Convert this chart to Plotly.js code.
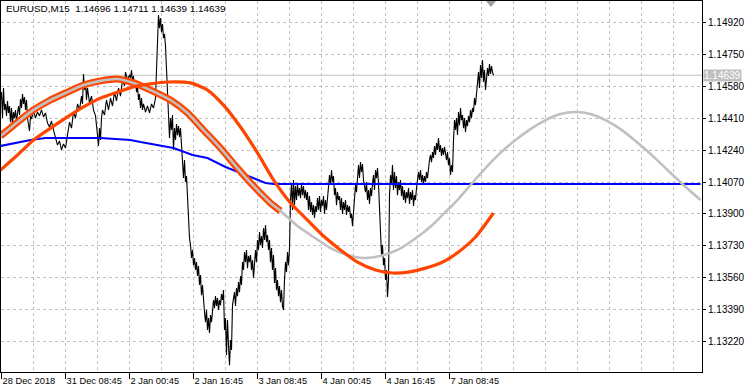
<!DOCTYPE html>
<html>
<head>
<meta charset="utf-8">
<script src="https://cdn.plot.ly/plotly-3.0.1.min.js"></script>
<style>html,body{margin:0;padding:0;background:#fff;}#chart{width:748px;height:392px;}</style>
</head>
<body>
<div id="chart"></div>
<script>
// ---- DATA (EURUSD M15, bar index = one M15 bar) ----
const titleText = "EURUSD,M15\u00a0\u00a01.14696 1.14711 1.14639 1.14639";
const lastPrice = 1.14639;

const xTickBars = [1, 65, 129, 193, 257, 321, 385, 449];
const xTickText = ["28 Dec 2018", "31 Dec 08:45", "2 Jan 00:45", "2 Jan 16:45", "3 Jan 08:45", "4 Jan 00:45", "4 Jan 16:45", "7 Jan 08:45"];
const xMinorGridBars = [33, 97, 161, 225, 289, 353, 417, 481, 513, 545, 577, 609, 641, 673];
const yTickVals = [1.13220, 1.13390, 1.13560, 1.13730, 1.13900, 1.14070, 1.14240, 1.14410, 1.14580, 1.14750, 1.14920];
const yTickText = ["1.13220", "1.13390", "1.13560", "1.13730", "1.13900", "1.14070", "1.14240", "1.14410", "1.14580", "1.14750", "1.14920"];

const priceBars = [0,1,2,3,4,5,6,7,8,9,10,11,12,13,14,15,16,17,18,19,20,21,22,23,24,25,26,27,28,29,30,31,
33,35,37,39,41,43,45,47,49,51,53,55,57,59,61,63,65,67,69,71,73,75,77,79,81,82,83,84,85,86,87,89,91,93,95,97,98,99,100,101,102,104,106,108,110,112,114,116,118,120,122,124,125,127,129,
130,131,132,133,134,135,136,137,138,139,140,141,142,143,145,147,149,151,153,155,
156,157,158,159,160,161,162,163,164,165,166,167,168,169,170,171,172,173,174,175,176,177,178,179,180,181,182,183,184,185,186,187,188,189,190,191,192,193,194,195,196,197,198,199,
200,201,202,203,204,205,206,207,208,209,210,211,212,213,214,215,216,217,218,219,220,221,222,223,224,225,226,227,228,229,230,231,232,233,234,235,236,237,238,239,240,241,242,243,244,245,246,247,248,249,
250,251,252,253,254,255,256,257,258,259,260,261,262,263,264,265,266,267,268,269,270,271,272,273,274,275,276,277,278,279,280,281,282,283,284,285,286,287,288,289,290,291,292,293,294,295,296,297,298,299,
300,301,302,303,304,305,306,307,308,309,310,311,312,313,314,315,316,317,318,319,320,321,322,323,324,325,326,327,328,329,330,331,332,333,334,335,336,337,338,339,340,341,342,343,344,345,346,347,348,349,
350,351,352,353,354,355,356,357,358,359,360,361,362,363,364,365,366,367,368,369,370,371,372,373,374,375,376,377,378,379,380,381,382,383,384,385,386,387,388,389,390,391,392,393,394,395,396,397,398,399,
400,401,402,403,404,405,406,407,408,409,410,411,412,413,414,415,416,417,418,419,420,421,422,423,424,425,426,427,428,429,430,431,432,433,434,435,436,437,438,439,440,441,442,443,444,445,446,447,448,449,
450,451,452,453,454,455,456,457,458,459,460,461,462,463,464,465,466,467,468,469,470,471,472,473,474,475,476,477,478,479,480,481,482,483,484,485,486,487,488,489,490,491,492,493];

const closePrice = [1.14507,1.14549,1.14411,1.14571,1.14454,1.14486,1.14422,1.14502,1.14438,1.14475,1.14389,1.14464,1.14373,1.14443,1.14411,1.14454,1.14395,1.14443,1.14475,1.14427,1.14512,1.14464,1.14539,1.14486,1.14523,1.14454,1.14507,1.14411,1.14373,1.14342,1.14422,1.14406,
1.14449,1.14411,1.14443,1.14422,1.14454,1.14417,1.14438,1.14384,1.14363,1.14395,1.14347,1.14310,1.14267,1.14289,1.14241,1.14273,1.14251,1.14320,1.14389,1.14357,1.14443,1.14411,1.14486,1.14454,1.14528,1.14486,1.14646,1.14560,1.14603,1.14507,1.14571,1.14491,1.14528,1.14454,1.14422,1.14320,1.14262,1.14357,1.14294,1.14411,1.14454,1.14427,1.14507,1.14454,1.14517,1.14475,1.14549,1.14502,1.14571,1.14528,1.14614,1.14582,1.14656,1.14614,1.14640,
1.14624,1.14667,1.14603,1.14635,1.14571,1.14614,1.14549,1.14582,1.14507,1.14539,1.14464,1.14517,1.14454,1.14486,1.14443,1.14475,1.14438,1.14486,1.14464,1.14517,
1.14667,1.14827,1.14960,1.14890,1.14944,1.14869,1.14912,1.14837,1.14859,1.14795,1.14667,1.14549,1.14480,1.14304,1.14411,1.14347,1.14427,1.14241,1.14357,1.14294,1.14379,1.14320,1.14368,1.14310,1.14357,1.14267,1.14241,1.14091,1.14187,1.14070,1.14102,1.13984,1.13894,1.13771,1.13734,1.13665,1.13708,1.13627,1.13665,1.13601,1.13643,1.13569,1.13622,1.13521,
1.13574,1.13467,1.13521,1.13414,1.13377,1.13323,1.13388,1.13281,1.13345,1.13265,1.13361,1.13323,1.13414,1.13441,1.13398,1.13462,1.13409,1.13451,1.13388,1.13441,1.13414,1.13473,1.13441,1.13494,1.13281,1.13345,1.13148,1.13334,1.13201,1.13094,1.13228,1.13175,1.13414,1.13441,1.13483,1.13409,1.13505,1.13462,1.13537,1.13483,1.13569,1.13521,1.13643,1.13601,1.13697,1.13643,1.13708,1.13611,1.13676,1.13643,
1.13681,1.13601,1.13654,1.13558,1.13643,1.13708,1.13643,1.13761,1.13708,1.13803,1.13734,1.13782,1.13718,1.13824,1.13761,1.13840,1.13750,1.13787,1.13708,1.13761,1.13643,1.13718,1.13601,1.13681,1.13532,1.13611,1.13494,1.13548,1.13462,1.13516,1.13430,1.13494,1.13409,1.13388,1.13548,1.13643,1.13590,1.13697,1.13627,1.13718,1.13974,1.14065,1.13921,1.14081,1.13947,1.14049,1.13974,1.14060,1.13995,1.14038,
1.13984,1.14060,1.14000,1.14049,1.13984,1.14027,1.13974,1.14016,1.13921,1.13995,1.13910,1.13963,1.13894,1.13947,1.13878,1.13942,1.13910,1.13984,1.13921,1.13995,1.13910,1.13974,1.13942,1.13995,1.13900,1.13974,1.13921,1.13984,1.14038,1.14107,1.14054,1.14134,1.14070,1.14102,1.14000,1.14038,1.13947,1.14016,1.13974,1.13995,1.13921,1.13984,1.13900,1.13963,1.13921,1.13974,1.13894,1.13947,1.13910,1.13942,
1.13878,1.13900,1.13835,1.13921,1.14000,1.14054,1.14016,1.14107,1.14160,1.14091,1.14176,1.14123,1.14166,1.14081,1.14049,1.14016,1.14070,1.13974,1.14027,1.13953,1.14038,1.13995,1.14060,1.14107,1.14027,1.14134,1.14091,1.14144,1.14060,1.13947,1.13814,1.13681,1.13734,1.13627,1.13665,1.13548,1.13601,1.13457,1.13548,1.14000,1.14107,1.14054,1.14160,1.14027,1.14123,1.14038,1.14102,1.14000,1.14070,1.14027,
1.14081,1.13995,1.14049,1.13974,1.14027,1.13958,1.14016,1.13984,1.14038,1.13953,1.14016,1.13974,1.14027,1.13942,1.14000,1.13974,1.14038,1.14070,1.14123,1.14081,1.14134,1.14070,1.14107,1.14060,1.14102,1.14070,1.14123,1.14091,1.14160,1.14187,1.14214,1.14176,1.14230,1.14198,1.14262,1.14214,1.14278,1.14241,1.14304,1.14230,1.14267,1.14209,1.14251,1.14214,1.14257,1.14220,1.14187,1.14230,1.14160,1.14198,
1.14107,1.14160,1.14123,1.14294,1.14400,1.14347,1.14411,1.14320,1.14443,1.14373,1.14464,1.14400,1.14427,1.14357,1.14411,1.14336,1.14400,1.14368,1.14422,1.14389,1.14454,1.14411,1.14464,1.14443,1.14517,1.14480,1.14549,1.14587,1.14656,1.14571,1.14693,1.14624,1.14720,1.14603,1.14667,1.14560,1.14640,1.14677,1.14635,1.14699,1.14646,1.14688,1.14656,1.14639];

// Blue moving average
const blueBars = [0, 15, 30, 45, 60, 80, 100, 115, 130, 140, 158, 173, 192, 207, 225, 240, 257, 265, 273, 700];
const blueVals = [1.14262, 1.14278, 1.14294, 1.14304, 1.14304, 1.14304, 1.14304, 1.14299, 1.14294, 1.14283, 1.14267, 1.14251, 1.14214, 1.14198, 1.14150, 1.14118, 1.14081, 1.14065, 1.14060, 1.14060];

// Gray cycle line (orange outlined band up to bar 280)
const grayBars = [0, 17, 33, 50, 67, 83, 100, 117, 133, 150, 170, 187, 203, 220, 237, 253, 270, 280, 297, 313, 330, 347, 363, 380, 397, 417, 433, 443, 457, 470, 485, 500, 515, 530, 545, 560, 575, 590, 605, 620, 635, 650, 665, 683, 700];
const grayVals = [1.14315, 1.14389, 1.14454, 1.14507, 1.14549, 1.14587, 1.14609, 1.14619, 1.14598, 1.14560, 1.14507, 1.14438, 1.14347, 1.14251, 1.14144, 1.14049, 1.13958, 1.13916, 1.13835, 1.13777, 1.13718, 1.13681, 1.13665, 1.13676, 1.13708, 1.13777, 1.13846, 1.13900, 1.13974, 1.14054, 1.14144, 1.14225, 1.14294, 1.14352, 1.14400, 1.14433, 1.14443, 1.14433, 1.14400, 1.14352, 1.14289, 1.14220, 1.14144, 1.14054, 1.13974];
const bandEndBar = 280;

// Orange-red cycle line
const orangeBars = [0, 17, 33, 50, 67, 83, 100, 117, 133, 150, 167, 190, 207, 223, 240, 257, 273, 290, 307, 323, 340, 357, 375, 392, 408, 425, 442, 458, 475, 493];
const orangeVals = [1.14134, 1.14214, 1.14294, 1.14357, 1.14417, 1.14470, 1.14517, 1.14549, 1.14577, 1.14593, 1.14603, 1.14598, 1.14560, 1.14480, 1.14363, 1.14225, 1.14081, 1.13958, 1.13867, 1.13782, 1.13708, 1.13643, 1.13601, 1.13585, 1.13590, 1.13611, 1.13643, 1.13697, 1.13777, 1.13905];

// ---- CHART ----
const bandBars = grayBars.filter(b => b <= bandEndBar);
const bandVals = grayVals.slice(0, bandBars.length);

const traces = [
  {x: priceBars, y: closePrice, type: 'scatter', mode: 'lines', line: {color: '#000000', width: 1.1}, hoverinfo: 'skip'},
  {x: blueBars, y: blueVals, type: 'scatter', mode: 'lines', line: {color: '#0000ff', width: 2}, hoverinfo: 'skip'},
  {x: bandBars, y: bandVals, type: 'scatter', mode: 'lines', line: {color: '#ff4500', width: 7, shape: 'spline', smoothing: 0.6}, hoverinfo: 'skip'},
  {x: grayBars, y: grayVals, type: 'scatter', mode: 'lines', line: {color: '#c0c0c0', width: 2.6, shape: 'spline', smoothing: 0.6}, hoverinfo: 'skip'},
  {x: orangeBars, y: orangeVals, type: 'scatter', mode: 'lines', line: {color: '#ff4500', width: 3.2, shape: 'spline', smoothing: 0.6}, hoverinfo: 'skip'}
];

const gridColor = '#c0c0c0';
const fam = 'Liberation Sans, Arial, sans-serif';
const font = {family: fam, size: 10, color: '#000000'};
const smallFont = {family: fam, size: 9.3, color: '#000000'};
const titleFont = {family: fam, size: 9.9, color: '#000000'};

const layout = {
  width: 748, height: 392,
  margin: {l: 1, r: 46, t: 1, b: 20, pad: 0},
  paper_bgcolor: '#ffffff', plot_bgcolor: '#ffffff',
  showlegend: false,
  font: font,
  xaxis: {
    range: [0.5, 701.5], fixedrange: true,
    tickmode: 'array', tickvals: xTickBars, ticktext: xTickText,
    tickangle: 0,
    ticks: 'outside', ticklen: 6, tickwidth: 1, tickcolor: '#000000',
    ticklabelposition: 'outside right',
    tickfont: smallFont,
    showline: true, mirror: true, linecolor: '#000000', linewidth: 1,
    showgrid: true, gridcolor: gridColor, gridwidth: 1, griddash: '3px,3px',
    zeroline: false,
    minor: {tickmode: 'array', tickvals: xMinorGridBars, ticks: '', showgrid: true, gridcolor: gridColor, gridwidth: 1, griddash: '3px,3px'}
  },
  yaxis: {
    range: [1.130575, 1.150346], fixedrange: true, side: 'right',
    tickmode: 'array', tickvals: yTickVals, ticktext: yTickText,
    ticks: 'outside', ticklen: 3, tickwidth: 1, tickcolor: '#000000',
    tickfont: font,
    showline: true, mirror: true, linecolor: '#000000', linewidth: 1,
    showgrid: true, gridcolor: gridColor, gridwidth: 1, griddash: '3px,3px',
    zeroline: false
  },
  shapes: [
    {type: 'line', xref: 'paper', x0: 0, x1: 1, yref: 'y', y0: lastPrice, y1: lastPrice, line: {color: '#c0c0c0', width: 1}, layer: 'below'},
    {type: 'path', xref: 'paper', xsizemode: 'pixel', xanchor: 0.699, yref: 'paper', ysizemode: 'pixel', yanchor: 1, path: 'M-5,0 L5,0 L0,-6 Z', fillcolor: '#a0a0a0', line: {width: 0}}
  ],
  annotations: [
    {xref: 'paper', yref: 'paper', x: 0, y: 1, xanchor: 'left', yanchor: 'top', xshift: 3, yshift: 0, text: titleText, showarrow: false, font: titleFont},
    {xref: 'paper', yref: 'y', x: 1, y: lastPrice, xanchor: 'left', yanchor: 'middle', xshift: 1, text: lastPrice.toFixed(5), showarrow: false, bgcolor: '#c0c0c0', borderpad: 0, font: {family: fam, size: 10, color: '#ffffff'}}
  ]
};

Plotly.newPlot('chart', traces, layout, {staticPlot: true, displayModeBar: false});
</script>
</body>
</html>
